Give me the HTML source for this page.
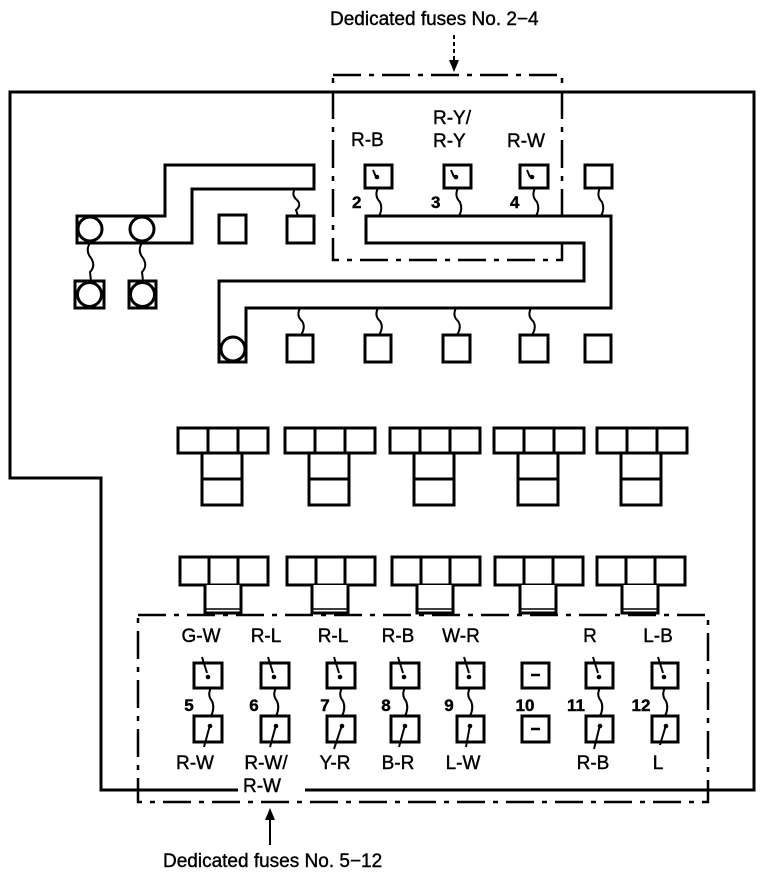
<!DOCTYPE html>
<html><head><style>html,body{margin:0;padding:0;background:#fff}svg{display:block}
text{font-family:"Liberation Sans",sans-serif;font-size:19px;fill:#000;stroke:#000;stroke-width:0.4}
.n{font-weight:bold;font-size:17px}</style></head><body>
<svg width="768" height="876" viewBox="0 0 768 876" xmlns="http://www.w3.org/2000/svg">
<g fill="none" stroke="#000" stroke-width="3">
<path d="M305 790 H754 V92 H10 V478 H101 V790 H238"/>
<path d="M333 75 H562 V260 H333 Z" stroke-width="2.5" stroke-dasharray="28,8,5,8"/>
<path d="M138 615 H708 V802 H138 Z" stroke-width="2.5" stroke-dasharray="28,8,5,8"/>
<path d="M454 35 V62" stroke-width="2" stroke-dasharray="4,3"/>
<path d="M270 845 V818" stroke-width="2"/>
</g>
<path d="M449 60 L459 60 L454 72 Z" fill="#000"/>
<path d="M265 820 L275 820 L270 808 Z" fill="#000"/>
<text x="330" y="25">Dedicated fuses No. 2−4</text>
<text x="163" y="867">Dedicated fuses No. 5−12</text>

<g fill="#fff" stroke="#000" stroke-width="3">
<path d="M165 165 H314 V189 H192 V243 H77 V216 H165 Z"/>
<circle cx="90" cy="229" r="12"/><circle cx="142" cy="229" r="12"/>
<path d="M366 216 H611 V308 H246 V362 H219 V281 H584 V243 H366 Z"/>
<circle cx="233" cy="349" r="12"/>
<rect x="219" y="215" width="27" height="28"/>
<rect x="287" y="216" width="27" height="27"/>
<rect x="75" y="281" width="29" height="27"/><circle cx="89.5" cy="294.5" r="12"/>
<rect x="129" y="281" width="27" height="27"/><circle cx="142.5" cy="294.5" r="12"/>
<rect x="287" y="335" width="26" height="27"/>
<rect x="365" y="335" width="26" height="27"/>
<rect x="443" y="335" width="27" height="27"/>
<rect x="520" y="335" width="28" height="27"/>
<rect x="585" y="335" width="26" height="27"/>
<rect x="365" y="165" width="27" height="23"/>
<rect x="444" y="165" width="27" height="23"/>
<rect x="520" y="165" width="28" height="23"/>
<rect x="585" y="165" width="27" height="23"/>
</g>
<g fill="none" stroke="#000" stroke-width="2">
<path d="M295 189 q-4 6 2 11 q5 5 -1 10 l2 6"/>
<path d="M90 243 q-5 8 1 15 q5 8 -1 14 l1 9"/>
<path d="M142 243 q-5 8 1 15 q5 8 -1 14 l1 9"/>
<path d="M300 308 q-4 8 2 13 q4 6 -1 14"/>
<path d="M378 308 q-4 8 2 13 q4 6 -1 14"/>
<path d="M456 308 q-4 8 2 13 q4 6 -1 14"/>
<path d="M531 308 q-4 8 2 13 q4 6 -1 14"/>
<path d="M378 188 q-4 8 2 14 q3 7 -1 14"/>
<path d="M458 188 q-4 8 2 14 q3 7 -1 14"/>
<path d="M535 188 q-4 8 2 14 q3 7 -1 14"/>
<path d="M600 188 q-4 8 2 14 q3 7 -1 14"/>
<path d="M373 170 l3 7"/><path d="M451 170 l3 7"/><path d="M527 170 l3 7"/>
</g>
<g fill="#000"><circle cx="377" cy="177" r="2.3"/><circle cx="456" cy="177" r="2.3"/><circle cx="532" cy="177" r="2.3"/></g>
<text x="351" y="146">R-B</text>
<text x="433" y="124">R-Y/</text>
<text x="433" y="147">R-Y</text>
<text x="507" y="147">R-W</text>
<text class="n" x="352" y="208">2</text>
<text class="n" x="431" y="208">3</text>
<text class="n" x="510" y="208">4</text>

<g fill="#fff" stroke="#000" stroke-width="3">
<g id="t1"><rect x="178" y="428" width="90" height="25"/><path d="M208 428 V453 M238 428 V453"/><rect x="202" y="453" width="40" height="52"/><path d="M202 479 H242"/></g>
<use href="#t1" x="107"/><use href="#t1" x="212"/><use href="#t1" x="316"/><use href="#t1" x="419"/>
<g id="t2"><rect x="180" y="557" width="88" height="28"/><path d="M209 557 V585 M238 557 V585"/><path d="M205 585 V613 H241 V585"/><path d="M205 609 H241" stroke-width="1.5"/></g>
<use href="#t2" x="107"/><use href="#t2" x="212"/><use href="#t2" x="315"/><use href="#t2" x="417"/>
</g>

<g fill="#fff" stroke="#000" stroke-width="3">
<rect x="194" y="663" width="28" height="25"/><rect x="261" y="663" width="28" height="25"/><rect x="327" y="663" width="28" height="25"/><rect x="391" y="663" width="28" height="25"/><rect x="457" y="663" width="27" height="25"/><rect x="522" y="663" width="27" height="25"/><rect x="586" y="663" width="27" height="25"/><rect x="652" y="663" width="26" height="25"/>
<rect x="194" y="716" width="28" height="26"/><rect x="261" y="716" width="28" height="26"/><rect x="327" y="716" width="28" height="26"/><rect x="391" y="716" width="28" height="26"/><rect x="457" y="716" width="27" height="26"/><rect x="522" y="716" width="27" height="26"/><rect x="586" y="716" width="27" height="26"/><rect x="652" y="716" width="26" height="26"/>
</g>
<g fill="none" stroke="#000" stroke-width="2">
<path d="M202 657 l5 16"/><path d="M268 657 l5 16"/><path d="M334 657 l5 16"/><path d="M398 657 l5 16"/><path d="M464 657 l5 16"/><path d="M593 657 l5 16"/><path d="M658 657 l5 16"/>
<path d="M211 688 q-4 7 1 13 q3 7 -1 15"/><path d="M276 688 q-4 7 1 13 q3 7 -1 15"/><path d="M342 688 q-4 7 1 13 q3 7 -1 15"/><path d="M405 688 q-4 7 1 13 q3 7 -1 15"/><path d="M470 688 q-4 7 1 13 q3 7 -1 15"/><path d="M600 688 q-4 7 1 13 q3 7 -1 15"/><path d="M665 688 q-4 7 1 13 q3 7 -1 15"/>
<path d="M210 725 l-6 22"/><path d="M276 725 l-6 22"/><path d="M342 725 l-8 24"/><path d="M405 725 l-6 22"/><path d="M470 725 l-4 22"/><path d="M600 725 l-6 24"/><path d="M666 725 l-6 20"/>
<path d="M531 675 H540 M531 729 H540" stroke-width="2.5"/>
</g>
<g fill="#000"><circle cx="208" cy="677" r="2.3"/><circle cx="274" cy="677" r="2.3"/><circle cx="340" cy="677" r="2.3"/><circle cx="404" cy="677" r="2.3"/><circle cx="469" cy="677" r="2.3"/><circle cx="599" cy="677" r="2.3"/><circle cx="664" cy="677" r="2.3"/>
<circle cx="210" cy="726" r="2.3"/><circle cx="276" cy="726" r="2.3"/><circle cx="342" cy="726" r="2.3"/><circle cx="405" cy="726" r="2.3"/><circle cx="470" cy="726" r="2.3"/><circle cx="600" cy="726" r="2.3"/><circle cx="666" cy="726" r="2.3"/></g>
<g text-anchor="middle">
<text x="201" y="642">G-W</text><text x="266" y="642">R-L</text><text x="333" y="642">R-L</text><text x="398" y="642">R-B</text><text x="461" y="642">W-R</text><text x="590" y="642">R</text><text x="658" y="642">L-B</text>
<text x="195" y="769">R-W</text><text x="266" y="769">R-W/</text><text x="262" y="792">R-W</text><text x="335" y="769">Y-R</text><text x="398" y="769">B-R</text><text x="463" y="769">L-W</text><text x="593" y="769">R-B</text><text x="658" y="769">L</text>
<text class="n" x="189" y="711">5</text><text class="n" x="254" y="711">6</text><text class="n" x="325" y="711">7</text><text class="n" x="386" y="711">8</text><text class="n" x="449" y="711">9</text><text class="n" x="525" y="711">10</text><text class="n" x="576" y="711">11</text><text class="n" x="641" y="711">12</text>
</g>
</svg>
</body></html>
